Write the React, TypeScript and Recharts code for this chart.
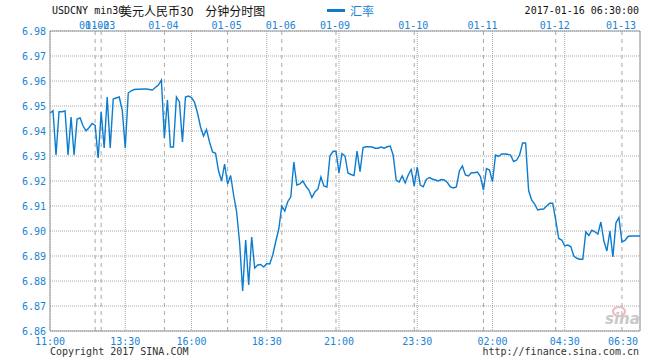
import React from "react";
import { LineChart, Line, XAxis, YAxis, CartesianGrid, ReferenceLine } from "recharts";

const rates = [
  6.9471, 6.9481, 6.9304, 6.9477, 6.9477, 6.948, 6.9304, 6.9456, 6.9304, 6.9448,
  6.9452, 6.942, 6.9401, 6.9414, 6.943, 6.9422, 6.9292, 6.9476, 6.9332, 6.9536,
  6.9332, 6.9528, 6.9532, 6.9536, 6.9484, 6.9332, 6.9552, 6.9561, 6.9566, 6.9567,
  6.9567, 6.9568, 6.9568, 6.9566, 6.9564, 6.9574, 6.9584, 6.9604, 6.9372, 6.9524,
  6.9336, 6.9336, 6.9536, 6.9516, 6.9356, 6.9536, 6.954, 6.9534, 6.9516, 6.9472,
  6.9416, 6.938, 6.9406, 6.9356, 6.9316, 6.9311, 6.924, 6.92, 6.9268, 6.9188,
  6.9222, 6.9144, 6.9076, 6.8952, 6.876, 6.8964, 6.8784, 6.8976, 6.8852, 6.8864,
  6.8866, 6.8856, 6.887, 6.8868, 6.8904, 6.8958, 6.9008, 6.91, 6.908, 6.9118,
  6.9137, 6.9276, 6.9184, 6.9188, 6.92, 6.9179, 6.9164, 6.9134, 6.9156, 6.9168,
  6.9216, 6.918, 6.9176, 6.93, 6.9318, 6.932, 6.9232, 6.931, 6.93, 6.9232,
  6.9226, 6.9222, 6.932, 6.9237, 6.9334, 6.9337, 6.9337, 6.9336, 6.9331, 6.9331,
  6.9336, 6.9331, 6.9337, 6.934, 6.9304, 6.9204, 6.9196, 6.922, 6.9192, 6.9224,
  6.9246, 6.918, 6.9256, 6.9184, 6.9177, 6.9206, 6.9214, 6.9208, 6.9204, 6.92,
  6.9206, 6.9204, 6.9194, 6.9176, 6.9172, 6.9176, 6.924, 6.926, 6.9224, 6.922,
  6.9233, 6.9233, 6.9236, 6.9218, 6.9164, 6.925, 6.9244, 6.9197, 6.9304, 6.9298,
  6.9308, 6.9308, 6.9307, 6.9304, 6.9278, 6.9283, 6.9304, 6.9352, 6.9352, 6.9162,
  6.9124, 6.9108, 6.9084, 6.9087, 6.9088, 6.91, 6.9111, 6.9111, 6.9044, 6.897,
  6.8964, 6.894, 6.8944, 6.8938, 6.89, 6.8891, 6.8887, 6.8887, 6.8996, 6.8982,
  6.9003, 6.8997, 6.8988, 6.9036, 6.896, 6.892, 6.9, 6.8896, 6.9032, 6.9054,
  6.8956, 6.8962, 6.8978, 6.898, 6.898, 6.898, 6.898,
];

const timeLabels = ["11:00", "13:30", "16:00", "18:30", "21:00", "23:30", "02:00", "04:30", "06:30"];
const timeTickIdx = [0, 25, 47, 72, 96, 122, 147, 171, 196];

const dateLabels = ["01-02", "01-03", "01-04", "01-05", "01-06", "01-09", "01-10", "01-11", "01-12", "01-13"];
const dateIdx = [15, 17, 38, 59, 77, 95, 121, 144, 168, 190];

const yTicks = [6.86, 6.87, 6.88, 6.89, 6.9, 6.91, 6.92, 6.93, 6.94, 6.95, 6.96, 6.97, 6.98];

const titleCode = "USDCNY min30";
const titleName = "美元人民币30\u3000分钟分时图";
const legendName = "汇率";
const stamp = "2017-01-16 06:30:00";
const copyright = "Copyright 2017 SINA.COM";
const siteUrl = "http://finance.sina.com.cn";

const data = rates.map((v, i) => ({ i, v }));

const MONO = '"DejaVu Sans Mono", monospace';
const CJK = '"Noto Sans CJK SC", sans-serif';
const BLUE_TEXT = "#1a84d4";
const LINE = "#0b7ccf";
const GRID = "#a8a8a8";
const AXIS = "#9a9a9a";

const BottomTick = (props: any) => {
  const { x, y, payload } = props;
  const k = timeTickIdx.indexOf(payload.value);
  const last = k === timeTickIdx.length - 1;
  return (
    <text x={last ? x - 2 : x} y={y + 14} textAnchor={last ? "end" : "middle"} fill={BLUE_TEXT} fontFamily={MONO} fontSize={10}>
      {timeLabels[k]}
    </text>
  );
};

const TopTick = (props: any) => {
  const { x, y, payload } = props;
  const k = dateIdx.indexOf(payload.value);
  return (
    <text x={x - 1} y={y - 2} textAnchor="middle" fill={BLUE_TEXT} fontFamily={MONO} fontSize={10}>
      {dateLabels[k]}
    </text>
  );
};

const LeftTick = (props: any) => {
  const { x, y, payload } = props;
  return (
    <text x={x} y={y + 3.5} textAnchor="end" fill={BLUE_TEXT} fontFamily={MONO} fontSize={10}>
      {Number(payload.value).toFixed(2)}
    </text>
  );
};

export default function App() {
  return (
    <div style={{ position: "absolute", left: 0, top: 0, width: 660, height: 360, background: "#fff", overflow: "hidden" }}>
      <LineChart width={660} height={360} data={data} margin={{ top: 1, right: 20, bottom: 0, left: 0 }}>
        <CartesianGrid stroke={GRID} strokeDasharray="1 1" />
        <XAxis
          dataKey="i"
          type="number"
          domain={[0, 196]}
          ticks={timeTickIdx}
          interval={0}
          height={29}
          tickSize={0}
          tickMargin={0}
          tickLine={false}
          axisLine={{ stroke: AXIS }}
          tick={<BottomTick />}
        />
        <XAxis
          xAxisId="top"
          orientation="top"
          dataKey="i"
          type="number"
          domain={[0, 196]}
          ticks={dateIdx}
          interval={0}
          height={30}
          tickSize={0}
          tickMargin={0}
          tickLine={false}
          axisLine={false}
          tick={<TopTick />}
        />
        <YAxis
          domain={[6.86, 6.98]}
          ticks={yTicks}
          interval={0}
          width={50}
          tickSize={0}
          tickMargin={4}
          tickLine={false}
          axisLine={{ stroke: AXIS }}
          tick={<LeftTick />}
        />
        {dateIdx.map((d, k) => (
          <ReferenceLine key={"d" + k} x={d} stroke={GRID} strokeDasharray="4 4" />
        ))}
        <ReferenceLine y={6.98} stroke={AXIS} />
        <ReferenceLine x={196} stroke={AXIS} />
        <Line type="linear" dataKey="v" stroke={LINE} strokeWidth={1.4} dot={false} isAnimationActive={false} />
      </LineChart>

      <div style={{ position: "absolute", left: 52, top: 4, fontFamily: MONO, fontSize: 10, color: "#111", lineHeight: "14px", whiteSpace: "pre" }}>
        {titleCode}
      </div>
      <div style={{ position: "absolute", left: 120, top: 3, fontFamily: CJK, fontSize: 12, color: "#111", lineHeight: "16px", whiteSpace: "pre", background: "transparent" }}>
        {titleName}
      </div>
      <div style={{ position: "absolute", left: 327, top: 9, width: 18, height: 3, background: LINE }} />
      <div style={{ position: "absolute", left: 350, top: 3, fontFamily: CJK, fontSize: 12, color: BLUE_TEXT, lineHeight: "16px" }}>
        {legendName}
      </div>
      <div style={{ position: "absolute", right: 21, top: 4, fontFamily: MONO, fontSize: 10, color: "#111", lineHeight: "14px" }}>
        {stamp}
      </div>
      <div style={{ position: "absolute", left: 50, top: 345, fontFamily: MONO, fontSize: 10, color: "#333", lineHeight: "14px" }}>
        {copyright}
      </div>
      <div style={{ position: "absolute", right: 21, top: 345, fontFamily: MONO, fontSize: 10, color: "#333", lineHeight: "14px" }}>
        {siteUrl}
      </div>
      <div style={{ position: "absolute", left: 612, top: 306, width: 10, height: 7, borderRadius: "50%", border: "2px solid #f2b8bf" }} />
      <div style={{ position: "absolute", left: 605, top: 310, fontFamily: '"DejaVu Sans", sans-serif', fontStyle: "italic", fontWeight: "bold", fontSize: 15, color: "#c9c9c9", lineHeight: "18px" }}>
        sina
      </div>
    </div>
  );
}
